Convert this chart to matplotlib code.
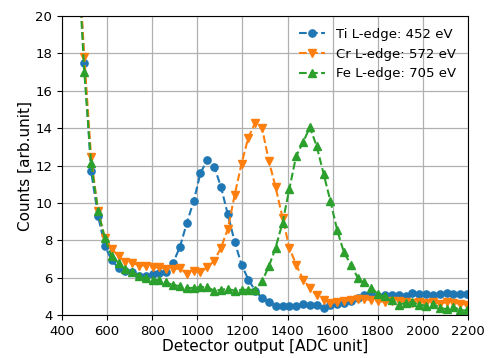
import matplotlib
matplotlib.use("Agg")
import matplotlib.pyplot as plt

x = [469, 499, 529, 560, 590, 620, 651, 681, 711, 741, 772,
     802, 832, 863, 893, 923, 954, 984, 1014, 1044, 1075,
     1105, 1135, 1166, 1196, 1226, 1257, 1287, 1317, 1347, 1378,
     1408, 1438, 1469, 1499, 1529, 1560, 1590, 1620, 1650, 1681,
     1711, 1741, 1772, 1802, 1832, 1863, 1893, 1923, 1953, 1984,
     2014, 2044, 2075, 2105, 2135, 2166, 2196]

ti = [23.8, 17.5, 11.7, 9.3, 7.7, 6.95, 6.5, 6.35, 6.3, 6.1, 6.1,
      6.2, 6.25, 6.3, 6.8, 7.65, 8.95, 10.1, 11.6, 12.3, 11.95,
      10.85, 9.4, 7.9, 6.7, 5.9, 5.3, 4.9, 4.7, 4.5, 4.5,
      4.5, 4.5, 4.6, 4.55, 4.55, 4.4, 4.55, 4.6, 4.65, 4.75,
      4.9, 5.05, 5.05, 5.0, 5.05, 5.05, 5.05, 5.0, 5.2, 5.1,
      5.1, 5.05, 5.1, 5.2, 5.15, 5.15, 5.15]

cr = [23.9, 17.8, 12.45, 9.55, 8.15, 7.55, 7.15, 6.85, 6.8, 6.65, 6.65,
      6.55, 6.55, 6.45, 6.45, 6.5, 6.2, 6.35, 6.3, 6.55, 6.9,
      7.6, 8.6, 10.45, 12.1, 13.5, 14.3, 14.0, 12.25, 10.85, 9.2,
      7.6, 6.7, 5.9, 5.45, 5.05, 4.8, 4.65, 4.7, 4.75, 4.8,
      4.85, 4.85, 4.8, 4.75, 4.7, 4.75, 4.75, 4.7, 4.65, 4.7,
      4.65, 4.7, 4.6, 4.7, 4.65, 4.6, 4.55]

fe = [23.6, 17.0, 12.15, 9.55, 8.1, 7.15, 6.8, 6.45, 6.3, 6.1, 6.0,
      5.9, 5.85, 5.75, 5.6, 5.55, 5.45, 5.45, 5.5, 5.5, 5.3,
      5.35, 5.4, 5.3, 5.35, 5.35, 5.35, 5.8, 6.6, 7.6, 8.95,
      10.75, 12.5, 13.25, 14.05, 13.05, 11.55, 10.1, 8.55, 7.35, 6.7,
      6.0, 5.75, 5.45, 5.1, 5.0, 4.8, 4.55, 4.65, 4.7, 4.55,
      4.5, 4.6, 4.4, 4.3, 4.45, 4.25, 4.25]

labels = ["Ti L-edge: 452 eV", "Cr L-edge: 572 eV", "Fe L-edge: 705 eV"]
xticks = [400, 600, 800, 1000, 1200, 1400, 1600, 1800, 2000, 2200]
yticks = [4, 6, 8, 10, 12, 14, 16, 18, 20]

fig = plt.figure(figsize=(4.88, 3.58), dpi=100)
ax = fig.add_axes([0.127, 0.12, 0.832, 0.835])

ax.plot(x, ti, "--o", color="#1f77b4", markersize=5.2, label=labels[0])
ax.plot(x, cr, "--v", color="#ff7f0e", markersize=5.8, label=labels[1])
ax.plot(x, fe, "--^", color="#2ca02c", markersize=5.8, label=labels[2])

ax.set_xlim(400, 2200)
ax.set_ylim(4, 20)
ax.set_xticks(xticks)
ax.set_yticks(yticks)
ax.tick_params(labelsize=9.5)
ax.grid(True, color="#b0b0b0", linewidth=0.9)
ax.set_xlabel("Detector output [ADC unit]", fontsize=11, labelpad=1)
ax.set_ylabel("Counts [arb.unit]", fontsize=11, labelpad=2)
ax.legend(loc="upper right", frameon=False, fontsize=9.5, handlelength=2.0)

fig.savefig("out.png", dpi=100)
